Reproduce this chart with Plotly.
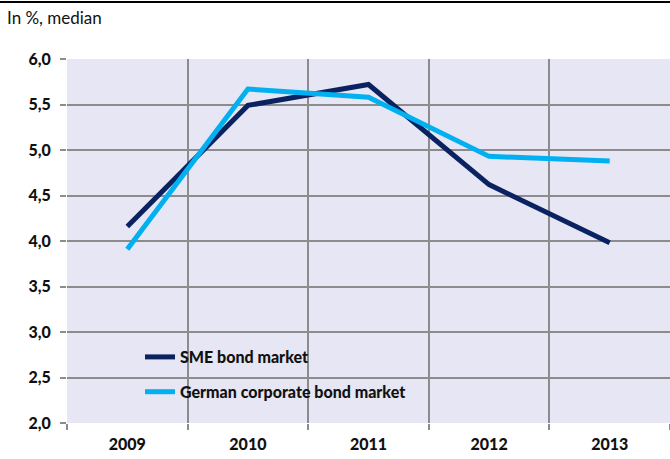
import plotly.graph_objects as go

years = ["2009", "2010", "2011", "2012", "2013"]
sme = [4.16, 5.49, 5.72, 4.62, 3.98]
german = [3.91, 5.67, 5.58, 4.93, 4.88]
y_ticks = [2.0, 2.5, 3.0, 3.5, 4.0, 4.5, 5.0, 5.5, 6.0]

W, H = 670, 459
ml, mr, mt, mb = 67, 0, 59, 36
pw, ph = W - ml - mr, H - mt - mb

fig = go.Figure()
fig.add_trace(go.Scatter(x=years, y=sme, mode="lines", name="SME bond market",
                         line=dict(color="#0b2260", width=5), legendgroup="a"))
fig.add_trace(go.Scatter(x=years, y=german, mode="lines", name="German corporate bond market",
                         line=dict(color="#00b0f0", width=5), legendgroup="b"))

fig.update_layout(
    width=W, height=H,
    margin=dict(l=ml, r=mr, t=mt, b=mb),
    paper_bgcolor="white",
    plot_bgcolor="#e6e6f4",
    separators=",.",
    font=dict(family="Lato, sans-serif", color="#111111"),
    showlegend=True,
    legend=dict(x=(140 - ml) / pw, y=(H - mb - 340) / ph, xanchor="left", yanchor="top",
                bgcolor="rgba(0,0,0,0)", font=dict(size=16, family="Lato, sans-serif", weight=900),
                tracegroupgap=11, itemwidth=30),
    xaxis=dict(type="category", tickson="boundaries", showgrid=True, gridcolor="#8c8c8c",
               gridwidth=2, ticks="outside", ticklen=6, tickcolor="#8c8c8c", tickwidth=2,
               tickfont=dict(size=16, weight=900), showline=False, zeroline=False,
               range=[-0.5, 4.5], ticklabelstandoff=10),
    yaxis=dict(range=[2.0, 6.0], tickvals=y_ticks, tickformat=".1f", showgrid=True,
               gridcolor="#8c8c8c", gridwidth=2, ticks="outside", ticklen=6,
               tickcolor="#8c8c8c", tickwidth=2, tickfont=dict(size=16, weight=900),
               zeroline=False, showline=False, ticklabelstandoff=6),
    shapes=[dict(type="line", xref="paper", yref="paper", x0=-ml / pw, x1=1,
                 y0=(H - mb - 2) / ph, y1=(H - mb - 2) / ph, line=dict(color="black", width=2))],
    annotations=[dict(text="In %, median", xref="paper", yref="paper",
                      x=(5 - ml) / pw, y=(H - mb - 18) / ph, xanchor="left", yanchor="middle",
                      showarrow=False, font=dict(size=17, family="Lato, sans-serif", color="#111111"))],
)

fig.write_html("out.html", config={"displayModeBar": False},
               post_script="document.body.style.margin='0';document.body.style.overflow='hidden';")
